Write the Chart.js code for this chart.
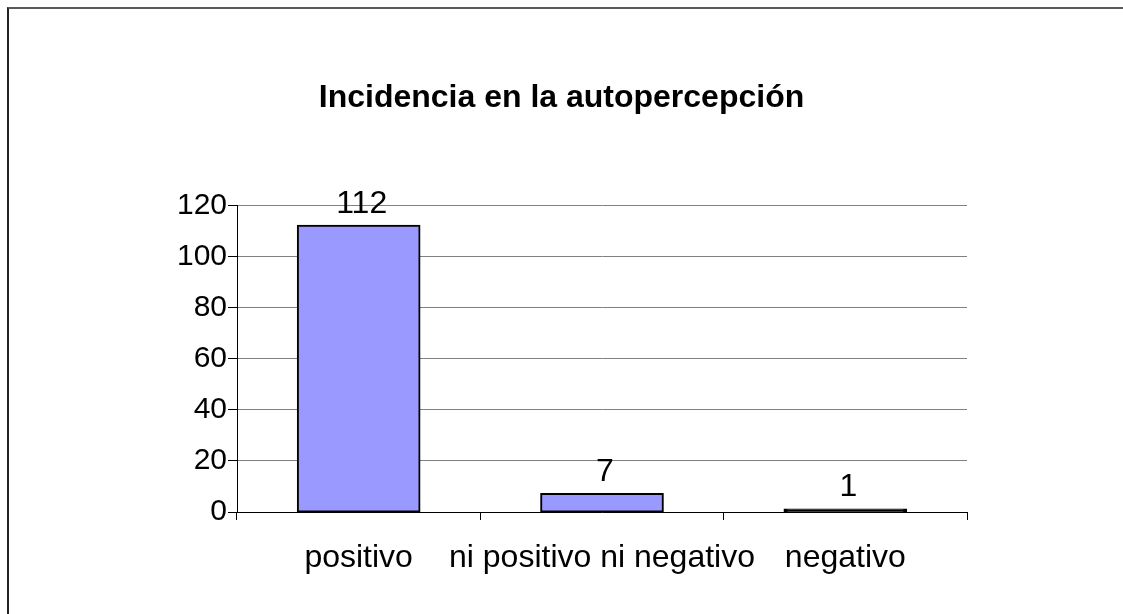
<!DOCTYPE html>
<html>
<head>
<meta charset="utf-8">
<script src="https://cdn.jsdelivr.net/npm/chart.js@4.4.1/dist/chart.umd.min.js"></script>
<style>
  html, body { margin: 0; padding: 0; background: #fff; }
  #wrap { position: relative; width: 1123px; height: 614px; overflow: hidden; }
  #frame { position: absolute; left: 7px; top: 7px; right: -4px; bottom: -4px;
           border-top: 2px solid #5a5a5a; border-left: 2px solid #222; pointer-events: none; }
</style>
</head>
<body>
<div id="wrap">
  <canvas id="autopercepcion" width="1123" height="614"></canvas>
  <div id="frame"></div>
</div>
<script>
'use strict';

var categories = ['positivo', 'ni positivo ni negativo', 'negativo'];
var respuestas = [112, 7, 1];
var yTicks = [0, 20, 40, 60, 80, 100, 120];

var textFont = 'Liberation Sans, Arial, sans-serif';

// Value labels above each bar
var valueLabels = {
  id: 'valueLabels',
  afterDatasetsDraw: function (chart) {
    var ctx = chart.ctx;
    var meta = chart.getDatasetMeta(0);
    ctx.save();
    ctx.font = '32px ' + textFont;
    ctx.fillStyle = '#000';
    ctx.textAlign = 'center';
    ctx.textBaseline = 'alphabetic';
    meta.data.forEach(function (bar, i) {
      ctx.fillText(String(respuestas[i]), bar.x + 3, bar.y - 13);
    });
    ctx.restore();
  }
};

// very short bars are only their black outline
function barFill(c) {
  var y = c.chart.scales.y;
  if (y && c.raw !== undefined) {
    var h = y.getPixelForValue(0) - y.getPixelForValue(c.raw);
    if (h < 4) return '#000000';
  }
  return '#9999FF';
}

createIncidenciaChart();

function createIncidenciaChart() {
  var ctx = document.getElementById('autopercepcion');
  var myBarChart = new Chart(ctx, {
    type: 'bar',
    data: {
      labels: categories,
      datasets: [
        {
          data: respuestas,
          backgroundColor: barFill,
          borderColor: '#000000',
          borderWidth: 2,
          borderSkipped: false,
          inflateAmount: 1,
          categoryPercentage: 1.0,
          barPercentage: 0.5
        }]
    },
    options: {
      responsive: false,
      animation: false,
      layout: {
        padding: 0
      },
      plugins: {
        legend: { display: false },
        tooltip: { enabled: false },
        title: {
          display: true,
          text: 'Incidencia en la autopercepción',
          color: '#000',
          font: { family: textFont, size: 32, weight: 'bold', lineHeight: 1.2 },
          padding: { top: 79, bottom: 88 }
        }
      },
      scales: {
        x: {
          offset: true,
          grid: {
            offset: true,
            drawOnChartArea: false,
            drawTicks: true,
            tickLength: 8,
            tickColor: '#000'
          },
          border: { color: '#000', width: 1 },
          ticks: {
            color: '#000',
            padding: 19,
            autoSkip: false,
            maxRotation: 0,
            font: { family: textFont, size: 32 }
          },
          afterFit: function (scale) { scale.height = 102; }
        },
        y: {
          min: 0,
          max: 120,
          afterBuildTicks: function (scale) {
            scale.ticks = yTicks.map(function (v) { return { value: v }; });
          },
          grid: {
            color: '#808080',
            tickColor: '#000',
            tickLength: 9,
            lineWidth: 1
          },
          border: { color: '#000', width: 1 },
          ticks: {
            color: '#000',
            padding: 1,
            font: { family: textFont, size: 30 }
          },
          afterFit: function (scale) { scale.width = 237; }
        },
        // empty right-hand space so the plot ends where the reference does
        spacer: {
          type: 'linear',
          position: 'right',
          display: true,
          grid: { display: false, drawTicks: false },
          border: { display: false },
          ticks: { display: false },
          afterFit: function (scale) { scale.width = 156; }
        }
      }
    },
    plugins: [valueLabels]
  });
}
</script>
</body>
</html>
